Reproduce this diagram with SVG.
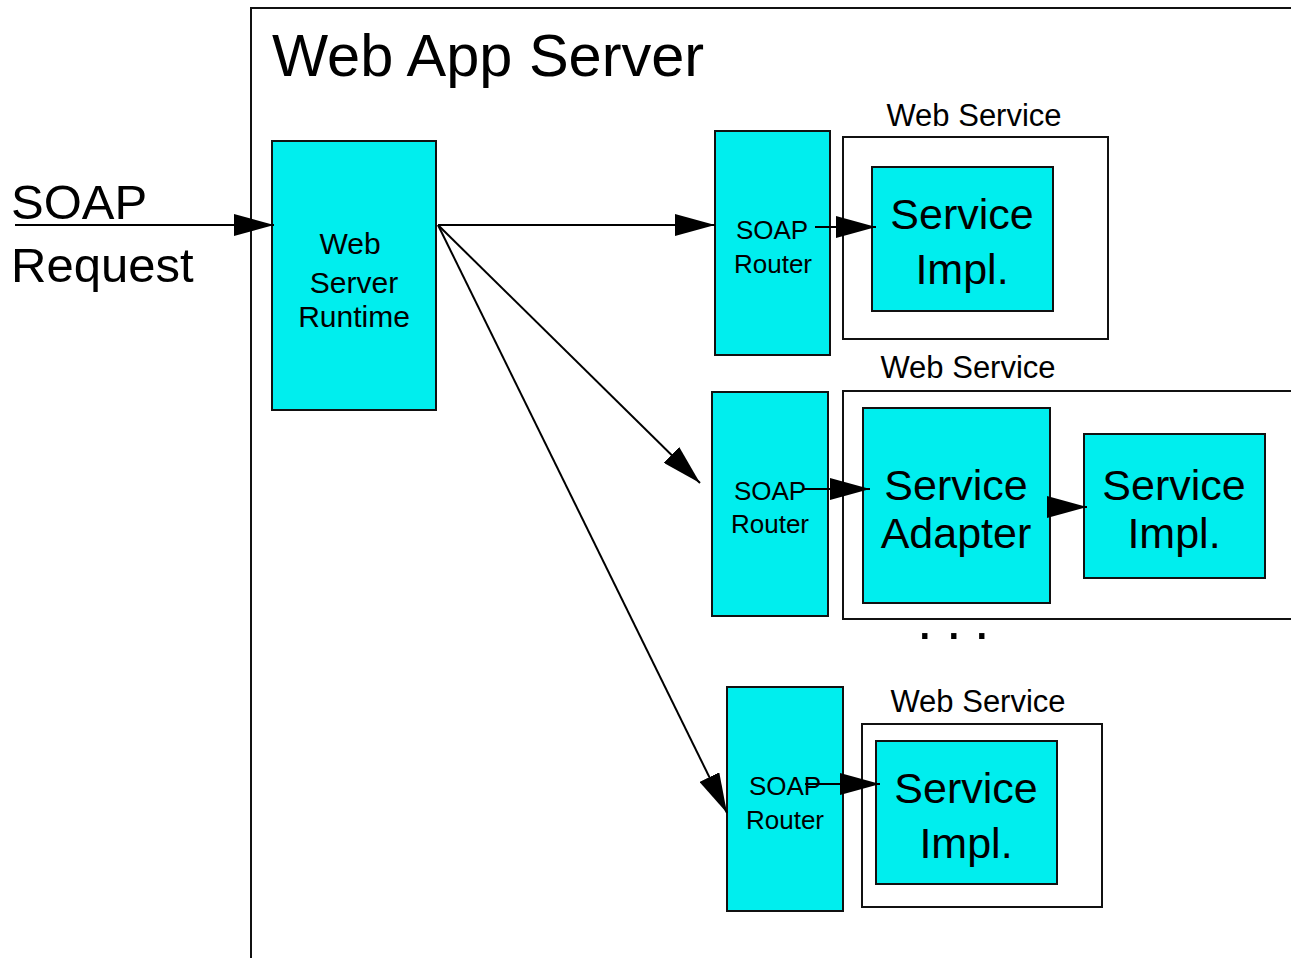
<svg xmlns="http://www.w3.org/2000/svg" width="1291" height="958" viewBox="0 0 1291 958">
<style>
text{font-family:"Liberation Sans",Arial,sans-serif;fill:#000}
.box{fill:#00EEEE;stroke:#111;stroke-width:2}
.frame{fill:none;stroke:#111;stroke-width:2}
.conn{fill:none;stroke:#000;stroke-width:2}
.router{font-size:26px;text-anchor:middle}
.big{font-size:43px;text-anchor:middle}
.ws{font-size:31px;text-anchor:middle}
</style>
<defs>
<marker id="ah" viewBox="0 0 40 22" refX="40" refY="11" markerWidth="40" markerHeight="22" markerUnits="userSpaceOnUse" orient="auto">
<path d="M0,0 L40,11 L0,22 z" fill="#000"/>
</marker>
</defs>
<rect width="1291" height="958" fill="#fff"/>
<g id="webAppServer">
<path class="frame" d="M251,958 V8 H1291"/>
<text x="272" y="76" font-size="59.5">Web App Server</text>
</g>
<g id="soapRequest">
<text x="11" y="219" font-size="49">SOAP</text>
<text x="11" y="282" font-size="49">Request</text>
</g>
<g id="webServerRuntime">
<rect class="box" x="272" y="141" width="164" height="269"/>
<text x="350" y="254" font-size="30" text-anchor="middle">Web</text>
<text x="354" y="293" font-size="30" text-anchor="middle">Server</text>
<text x="354" y="327" font-size="30" text-anchor="middle">Runtime</text>
</g>
<g id="ws1">
<rect class="frame" x="843" y="137" width="265" height="202"/>
<text class="ws" x="974" y="126">Web Service</text>
</g>
<g id="router1">
<rect class="box" x="715" y="131" width="115" height="224"/>
<text class="router" x="772" y="239">SOAP</text>
<text class="router" x="773" y="273">Router</text>
</g>
<g id="impl1">
<rect class="box" x="872" y="167" width="181" height="144"/>
<text class="big" x="962" y="229">Service</text>
<text class="big" x="962" y="284">Impl.</text>
</g>
<g id="ws2">
<path class="frame" d="M1291,391 H843 V619 H1291"/>
<text class="ws" x="968" y="378">Web Service</text>
</g>
<g id="router2">
<rect class="box" x="712" y="392" width="116" height="224"/>
<text class="router" x="770" y="500">SOAP</text>
<text class="router" x="770" y="533">Router</text>
</g>
<g id="adapter2">
<rect class="box" x="863" y="408" width="187" height="195"/>
<text class="big" x="956" y="500">Service</text>
<text class="big" x="956" y="548">Adapter</text>
</g>
<g id="impl2">
<rect class="box" x="1084" y="434" width="181" height="144"/>
<text class="big" x="1174" y="500">Service</text>
<text class="big" x="1174" y="548">Impl.</text>
</g>
<g id="ellipsis">
<text x="917 946 974" y="639" font-size="56">...</text>
</g>
<g id="ws3">
<rect class="frame" x="862" y="724" width="240" height="183"/>
<text class="ws" x="978" y="712">Web Service</text>
</g>
<g id="router3">
<rect class="box" x="727" y="687" width="116" height="224"/>
<text class="router" x="785" y="795">SOAP</text>
<text class="router" x="785" y="829">Router</text>
</g>
<g id="impl3">
<rect class="box" x="876" y="741" width="181" height="143"/>
<text class="big" x="966" y="803">Service</text>
<text class="big" x="966" y="858">Impl.</text>
</g>
<g id="connectors">
<line class="conn" x1="15" y1="225" x2="274" y2="225" marker-end="url(#ah)"/>
<line class="conn" x1="438" y1="225" x2="715" y2="225" marker-end="url(#ah)"/>
<line class="conn" x1="438" y1="225" x2="700" y2="483" marker-end="url(#ah)"/>
<line class="conn" x1="438" y1="225" x2="727" y2="813" marker-end="url(#ah)"/>
<line class="conn" x1="815" y1="227" x2="876" y2="227" marker-end="url(#ah)"/>
<line class="conn" x1="803" y1="489" x2="870" y2="489" marker-end="url(#ah)"/>
<line class="conn" x1="1050" y1="507" x2="1087" y2="507" marker-end="url(#ah)"/>
<line class="conn" x1="805" y1="784" x2="880" y2="784" marker-end="url(#ah)"/>
</g>
</svg>
